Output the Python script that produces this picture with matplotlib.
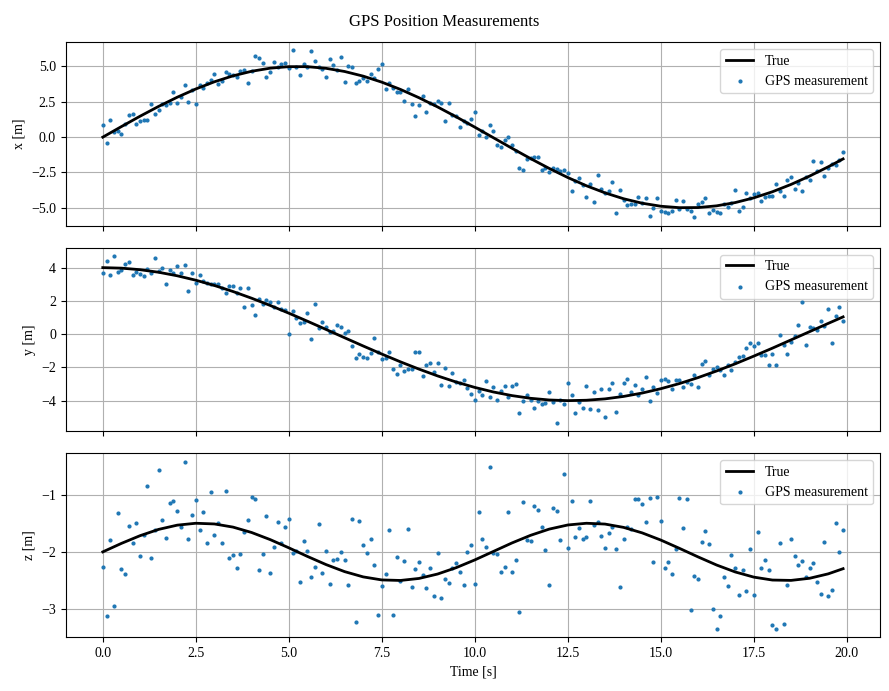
import numpy as np
import matplotlib
matplotlib.use("Agg")
import matplotlib.pyplot as plt

plt.rcParams['font.family'] = ['Liberation Serif', 'DejaVu Serif']

# true trajectory, sampled every 0.5 s (last sample at 19.9 s)
t_true = [0.0, 0.5, 1.0, 1.5, 2.0, 2.5, 3.0, 3.5, 4.0, 4.5, 5.0, 5.5, 6.0, 6.5,
          7.0, 7.5, 8.0, 8.5, 9.0, 9.5, 10.0, 10.5, 11.0, 11.5, 12.0, 12.5, 13.0,
          13.5, 14.0, 14.5, 15.0, 15.5, 16.0, 16.5, 17.0, 17.5, 18.0, 18.5, 19.0,
          19.5, 19.9]
x_true = [0.000, 0.747, 1.478, 2.175, 2.823, 3.408, 3.917, 4.337, 4.660, 4.879,
          4.987, 4.985, 4.869, 4.645, 4.316, 3.890, 3.378, 2.788, 2.137, 1.437,
          0.706, -0.042, -0.789, -1.518, -2.213, -2.858, -3.439, -3.942, -4.358,
          -4.675, -4.888, -4.990, -4.981, -4.860, -4.629, -4.294, -3.864, -3.346,
          -2.754, -2.098, -1.540]
y_true = [4.000, 3.969, 3.876, 3.722, 3.510, 3.244, 2.927, 2.564, 2.161, 1.725,
          1.261, 0.778, 0.283, -0.217, -0.713, -1.198, -1.665, -2.104, -2.513,
          -2.881, -3.205, -3.479, -3.697, -3.859, -3.960, -4.000, -3.976, -3.894,
          -3.746, -3.542, -3.282, -2.973, -2.615, -2.216, -1.785, -1.322, -0.843,
          -0.347, 0.150, 0.646, 1.038]
z_true = [-2.000, -1.852, -1.718, -1.608, -1.534, -1.501, -1.513, -1.568, -1.662,
          -1.786, -1.929, -2.079, -2.221, -2.344, -2.436, -2.489, -2.498, -2.463,
          -2.386, -2.275, -2.140, -1.992, -1.844, -1.711, -1.603, -1.531, -1.501,
          -1.515, -1.573, -1.669, -1.794, -1.938, -2.087, -2.229, -2.350, -2.440,
          -2.491, -2.497, -2.460, -2.383, -2.293]

# GPS measurements, one every 0.1 s from 0.0 to 19.9 s
x_meas = [
    0.83, -0.38, 1.18, 0.33, 0.45, 0.19, 0.90, 1.60, 1.67, 0.90,
    1.11, 1.18, 1.18, 2.31, 1.67, 1.89, 2.38, 2.24, 2.45, 3.16,
    2.45, 2.81, 3.66, 2.52, 3.37, 2.38, 3.66, 3.51, 3.80, 4.01,
    4.50, 3.73, 3.94, 4.58, 4.50, 4.43, 4.29, 4.65, 4.72, 3.80,
    4.65, 5.71, 5.57, 5.28, 4.22, 4.58, 5.35, 4.93, 5.21, 5.28,
    4.86, 6.13, 4.93, 4.43, 5.14, 4.93, 6.06, 5.42, 4.93, 4.79,
    4.22, 5.50, 5.07, 4.72, 5.64, 3.87, 5.00,
    4.93, 3.80, 3.94, 4.15, 3.94, 4.50, 4.15, 4.79, 5.14, 3.44,
    3.80, 3.51, 3.16, 3.16, 2.59, 3.44, 2.38, 1.53, 2.24, 2.88,
    1.75, 2.45, 2.38, 2.59, 2.45, 1.11, 2.45, 1.60, 1.53, 0.75,
    1.11, 0.97, 1.25, 1.75, 0.12, 0.40, -0.02, 0.83, 0.40, -0.59,
    -0.73, -0.17, -0.02, -0.59, -1.01, -2.15, -2.29, -1.58, -1.51, -1.44,
    -1.37, -2.29, -2.15, -2.50, -2.15, -2.22, -2.43, -2.29, -2.57, -3.84,
    -3.07, -2.92, -3.42, -4.20, -3.35, -4.62, -2.71,
    -3.70, -3.92, -3.84, -3.14, -5.40, -3.77, -4.48, -4.83, -4.76, -4.76,
    -4.20, -4.69, -4.34, -5.61, -4.98, -4.34, -5.19, -5.33, -5.40, -5.26,
    -4.48, -5.05, -4.55, -5.05, -5.26, -5.68, -4.76, -4.62, -4.34, -5.40,
    -5.12, -5.33, -5.40, -4.76, -4.91, -4.69, -3.77, -5.19, -4.91, -3.92,
    -4.34, -3.99, -3.92, -4.55, -4.20, -4.13, -4.13, -3.28, -3.84, -4.13,
    -3.00, -2.85, -3.70, -3.21, -3.84, -2.85, -3.00, -1.72, -2.36, -1.79,
    -2.78, -2.15, -1.93, -2.00, -1.65, -1.08,
]
y_meas = [
    3.67, 4.39, 3.55, 4.69, 3.73, 3.85, 4.21, 4.33, 3.55, 3.73,
    3.61, 3.49, 3.91, 3.67, 4.57, 3.79, 3.97, 3.01, 3.85, 3.67,
    4.09, 3.67, 4.15, 2.59, 3.67, 3.07, 3.55, 3.19, 3.07, 3.01,
    3.01, 3.01, 2.77, 2.47, 2.89, 2.89, 2.47, 2.77, 1.62, 2.77,
    1.74, 1.14, 2.10, 1.80, 2.04, 1.92, 1.62, 1.92, 1.50, 1.44,
    0.00, 1.38, 0.96, 0.66, 0.72, 1.26, -0.30, 1.80, 0.36, 0.72,
    0.42, 0.12, 0.18, 0.54, 0.42, 0.06, 0.18,
    -0.72, -1.44, -1.20, -1.38, -1.44, -1.14, -0.24, -1.08, -1.50, -1.44,
    -1.08, -2.10, -2.40, -1.86, -2.22, -2.10, -2.10, -1.08, -1.08, -2.53,
    -1.86, -1.74, -2.28, -1.74, -3.07, -2.04, -3.13, -2.34, -2.89, -2.95,
    -2.77, -3.25, -3.61, -3.97, -3.43, -3.67, -2.83, -3.79, -3.19, -3.97,
    -3.43, -3.13, -3.79, -3.13, -3.01, -4.75, -4.03, -3.67, -3.97, -4.45,
    -4.03, -4.21, -4.15, -3.49, -4.09, -5.35, -3.97, -4.21, -2.95, -3.67,
    -4.75, -4.09, -4.45, -3.13, -4.51, -3.49, -4.57,
    -3.31, -4.99, -3.31, -2.95, -4.69, -3.61, -2.95, -2.71, -3.49, -3.07,
    -3.67, -3.31, -2.59, -4.03, -3.19, -3.55, -2.77, -2.71, -2.83, -3.31,
    -2.77, -2.77, -3.19, -2.89, -3.01, -2.46, -3.19, -1.80, -1.62, -2.46,
    -2.10, -1.98, -2.16, -2.46, -1.86, -2.16, -1.68, -1.38, -1.32, -0.84,
    -0.54, -0.72, -0.54, -1.26, -1.26, -1.86, -1.20, -1.86, -0.06, -0.66,
    -1.20, -0.48, -0.12, 0.54, 1.92, -0.66, 0.42, 0.36, 0.24, 0.78,
    0.48, 1.50, -0.54, 1.08, 1.62, 0.78,
]
z_meas = [
    -2.26, -3.11, -1.79, -2.94, -1.32, -2.30, -2.38, -1.55, -1.84, -1.50,
    -2.07, -1.70, -0.85, -2.10, -1.62, -0.57, -1.44, -1.76, -1.15, -1.11,
    -1.29, -1.57, -0.43, -1.77, -1.36, -1.10, -1.62, -1.30, -1.84, -0.96,
    -1.70, -1.50, -1.84, -0.94, -2.10, -2.05, -2.28, -2.03, -1.65, -1.44,
    -1.04, -1.08, -2.31, -2.03, -1.37, -2.37, -1.91, -1.48, -1.84, -1.57,
    -1.43, -2.02, -1.98, -2.52, -1.81, -1.98, -2.43, -2.26, -1.51, -2.37,
    -1.98, -2.56, -2.14, -2.12, -2.00, -2.14, -2.57,
    -1.43, -3.23, -1.46, -1.88, -2.02, -1.77, -2.23, -3.10, -2.59, -2.38,
    -1.62, -3.10, -2.09, -2.50, -2.16, -1.60, -2.61, -2.30, -2.17, -2.40,
    -2.63, -2.28, -2.77, -2.02, -2.80, -2.47, -2.54, -2.28, -2.19, -2.35,
    -2.57, -2.00, -1.88, -2.56, -1.30, -1.77, -1.91, -0.52, -2.02, -2.03,
    -2.35, -2.26, -1.30, -2.35, -2.14, -3.04, -1.13, -1.79, -1.81, -1.20,
    -1.27, -1.57, -1.97, -2.57, -1.23, -1.29, -1.79, -0.64, -1.93, -1.11,
    -1.74, -1.58, -1.77, -1.74, -1.11, -1.53, -1.48,
    -1.72, -1.93, -1.67, -1.57, -1.95, -2.61, -1.77, -1.57, -1.60, -1.08,
    -1.08, -1.17, -1.48, -1.06, -2.17, -1.04, -1.46, -2.28, -2.17, -2.38,
    -1.95, -1.06, -1.58, -1.08, -3.01, -2.42, -2.47, -1.83, -1.63, -1.86,
    -2.99, -3.34, -3.11, -2.43, -2.59, -2.05, -2.28, -2.75, -2.31, -2.68,
    -1.95, -2.75, -1.65, -2.28, -2.14, -2.31, -3.27, -3.34, -1.84, -3.25,
    -2.57, -1.77, -2.07, -2.23, -2.16, -2.43, -2.28, -2.19, -2.52, -2.73,
    -1.83, -2.77, -2.66, -1.50, -2.00, -1.62,
]
t_meas = np.round(np.arange(len(x_meas)) * 0.1, 1)

ylabels = ["x [m]", "y [m]", "z [m]"]

fig, axes = plt.subplots(3, 1, figsize=(8.89, 6.91), dpi=100, sharex=True)
fig.subplots_adjust(left=0.074, right=0.99, top=0.939, bottom=0.078, hspace=0.12)

for ax, true_vals, meas, lab in zip(axes, [x_true, y_true, z_true],
                                     [x_meas, y_meas, z_meas], ylabels):
    ax.plot(t_true, true_vals, color='black', linewidth=2, label='True')
    ax.scatter(t_meas, meas, s=4, color='tab:blue', zorder=1.8,
               label='GPS measurement')
    ax.set_ylabel(lab)
    ax.grid(True)
    ax.legend(loc='upper right')

axes[-1].set_xlabel("Time [s]")
fig.suptitle("GPS Position Measurements", fontsize=12)

fig.savefig("out.png", dpi=100)
